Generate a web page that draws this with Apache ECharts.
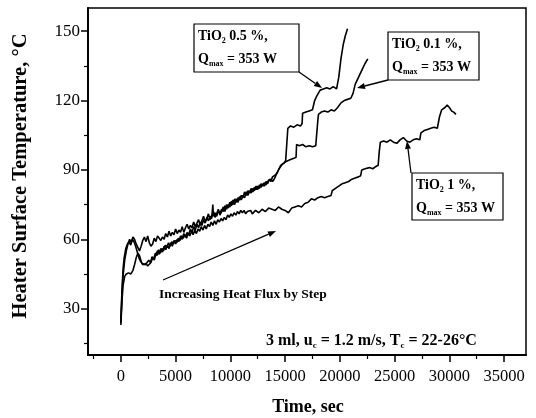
<!DOCTYPE html>
<html>
<head>
<meta charset="utf-8">
<script src="https://cdn.jsdelivr.net/npm/echarts@6/dist/echarts.min.js"></script>
<style>
  html, body { margin: 0; padding: 0; background: #fff; }
  #chart { width: 536px; height: 418px; }
</style>
</head>
<body>
<div id="chart"></div>
<script>
// tick positions
const xMajorTicks = [0, 5000, 10000, 15000, 20000, 25000, 30000, 35000];
const xMinorTicks = [-2500, 2500, 7500, 12500, 17500, 22500, 27500, 32500];
const yMajorTicks = [30, 60, 90, 120, 150];
const yMinorTicks = [15, 45, 75, 105, 135];

// TiO2 0.5 %  [time s, temperature C]
const tio2_05 = [
  [0, 24], [100, 36], [200, 44], [350, 51], [500, 55], [650, 58], [800, 60], [950, 58.5],
  [1100, 61], [1250, 60], [1400, 58], [1550, 56.5], [1700, 55], [1850, 57], [2000, 59.5],
  [2150, 61], [2300, 59], [2450, 61.5], [2600, 58.5], [2750, 57], [2900, 58], [3050, 60.5],
  [3200, 59], [3350, 61.5], [3500, 62], [3650, 59.5], [3800, 61], [3950, 60], [4100, 62.5],
  [4250, 61], [4400, 63.5], [4550, 61.5], [4700, 63], [4850, 62], [5000, 64.5], [5150, 62.5],
  [5300, 64], [5450, 63], [5600, 65.5], [5750, 63], [5900, 65], [6050, 66.5], [6200, 64.5],
  [6350, 66], [6500, 65], [6650, 67.5], [6800, 65.5], [6950, 67], [7100, 68.5], [7250, 66],
  [7400, 68], [7550, 70], [7700, 67.5], [7850, 69], [8000, 71], [8150, 68.5], [8300, 70],
  [8450, 72], [8600, 69.5], [8750, 71], [8900, 73], [9050, 70.5], [9200, 72], [9350, 74],
  [9500, 72], [9650, 75], [9800, 73.5], [9950, 76], [10100, 74.5], [10250, 77], [10400, 75],
  [10550, 77.5], [10700, 76], [10850, 78.5], [11000, 77], [11150, 79], [11300, 78],
  [11450, 80.5], [11600, 79], [11750, 81], [11900, 80], [12050, 82], [12200, 81], [12350, 83],
  [12500, 81.5], [12650, 83.5], [12800, 82.5], [12950, 84], [13100, 83], [13250, 85],
  [13400, 84], [13550, 86], [13700, 85], [13850, 87], [14000, 86.5], [14150, 88], [14300, 89],
  [14450, 90.5], [14600, 92], [14750, 92.5], [14900, 93], [15050, 94], [15200, 94.5],
  [15250, 108], [15500, 109], [15800, 108.5], [16100, 109.5], [16400, 109], [16550, 110],
  [16600, 114.5], [16900, 115], [17200, 115.5], [17500, 116], [17700, 120], [17900, 122],
  [18200, 124.5], [18500, 125], [18800, 125.5], [19100, 125], [19400, 126], [19700, 125],
  [19800, 124.5], [19900, 130], [20100, 138], [20300, 144], [20500, 148], [20700, 151]
];

// TiO2 0.1 %
const tio2_01 = [
  [0, 23], [100, 33], [200, 40], [350, 44], [500, 45], [700, 45.5], [900, 45], [1100, 46.5],
  [1250, 49], [1400, 52], [1550, 54], [1700, 53], [1850, 50.5], [2000, 49], [2150, 48.5],
  [2300, 49.5], [2450, 48.5], [2600, 49], [2750, 50], [2900, 52], [3050, 51], [3200, 53.5],
  [3350, 55], [3500, 53.5], [3650, 56], [3800, 54.5], [3950, 57], [4100, 55.5], [4250, 57.5],
  [4400, 56], [4550, 58.5], [4700, 57], [4850, 59.5], [5000, 58], [5150, 60], [5300, 59],
  [5450, 61.5], [5600, 60], [5750, 62.5], [5900, 61], [6050, 63], [6200, 62], [6350, 64.5],
  [6500, 63], [6650, 65.5], [6800, 64], [6950, 66.5], [7100, 65], [7250, 67.5], [7400, 66],
  [7550, 68.5], [7700, 67], [7850, 69.5], [8000, 68], [8150, 70], [8300, 69], [8400, 75],
  [8450, 70], [8600, 71.5], [8750, 70], [8900, 72.5], [9050, 71], [9200, 73], [9350, 72],
  [9500, 74.5], [9650, 73], [9800, 75], [9950, 74], [10100, 76.5], [10250, 75], [10400, 77.5],
  [10550, 76], [10700, 78], [10850, 77], [11000, 79], [11150, 78], [11300, 80.5], [11450, 79],
  [11600, 81], [11750, 80], [11900, 82], [12050, 80.5], [12200, 82.5], [12350, 81.5],
  [12500, 83], [12650, 82], [12800, 84], [12950, 83], [13100, 84.5], [13250, 83.5], [13400, 85],
  [13550, 84.5], [13700, 86], [13850, 85], [14000, 86], [14150, 87.5], [14300, 89],
  [14450, 90.5], [14600, 91.5], [14750, 92.5], [14900, 93], [15050, 93.5], [15200, 94],
  [15500, 94.5], [15800, 95], [16000, 95.5], [16050, 101], [16300, 100.5], [16600, 101],
  [16900, 100], [17200, 100.5], [17500, 100], [17800, 100.5], [17950, 101], [18000, 112],
  [18050, 114], [18300, 115], [18600, 115.5], [18900, 115], [19200, 116], [19500, 115.5],
  [19800, 117], [20100, 119], [20400, 120], [20700, 120.5], [21000, 121], [21200, 123],
  [21400, 127], [21700, 130], [22000, 133], [22300, 136], [22550, 138]
];

// TiO2 1 %
const tio2_1 = [
  [0, 24], [100, 38], [200, 47], [300, 52], [450, 56], [600, 58], [750, 59], [900, 57.5],
  [1050, 60], [1200, 59], [1350, 57], [1500, 54.5], [1650, 52], [1800, 50.5], [1950, 49.5],
  [2100, 50], [2250, 49], [2400, 49.5], [2550, 51], [2700, 50], [2850, 52.5], [3000, 51.5],
  [3150, 54], [3300, 53], [3450, 55.5], [3600, 54], [3750, 56], [3900, 55], [4050, 57.5],
  [4200, 56.5], [4350, 58.5], [4500, 57], [4650, 59], [4800, 58], [4950, 59.5], [5100, 58.5],
  [5250, 60.5], [5400, 59.5], [5550, 61.5], [5700, 60.5], [5850, 62], [6000, 60.5],
  [6150, 62.5], [6300, 61.5], [6450, 63.5], [6600, 62], [6750, 64], [6900, 62.5], [7050, 64.5],
  [7200, 63.5], [7350, 65.5], [7500, 64], [7650, 66], [7800, 64.5], [7950, 66.5], [8100, 65.5],
  [8250, 67.5], [8400, 66], [8550, 68], [8700, 66.5], [8850, 68.5], [9000, 67.5], [9150, 69],
  [9300, 68], [9450, 69.5], [9600, 68.5], [9750, 70.5], [9900, 69.5], [10050, 71],
  [10200, 70], [10350, 71.5], [10500, 70.5], [10650, 72], [10800, 71], [10950, 72.5],
  [11100, 71.5], [11250, 72.5], [11400, 71], [11550, 72], [11700, 71.5], [11850, 72.5],
  [12000, 71], [12300, 72.5], [12600, 71.5], [12900, 73], [13200, 72], [13500, 73.5],
  [13800, 73], [14100, 72.5], [14400, 74], [14700, 73], [15000, 72.5], [15300, 71.5],
  [15600, 73.5], [15900, 74], [16200, 74.5], [16500, 74], [16800, 75.5], [17100, 76],
  [17400, 77.5], [17700, 77], [18000, 78], [18300, 78.5], [18600, 78], [18900, 78.5],
  [19200, 79], [19300, 81], [19600, 82], [19900, 83], [20200, 84], [20500, 84.5],
  [20800, 85], [21100, 86], [21400, 86.5], [21700, 87], [21900, 87.5], [22000, 90],
  [22300, 90.5], [22700, 91], [23000, 90.5], [23300, 91.5], [23500, 92], [23600, 98],
  [23700, 102], [24000, 102.5], [24300, 102], [24600, 103], [24900, 102], [25200, 101.5],
  [25500, 103], [25800, 104], [26100, 102.5], [26400, 102], [26700, 103], [27000, 103.5],
  [27300, 103], [27400, 106], [27700, 107], [28000, 107.5], [28300, 108], [28600, 108.5],
  [28900, 108], [29100, 113], [29300, 116], [29600, 117], [29800, 118], [30000, 117],
  [30200, 115.5], [30400, 115], [30600, 114]
];

const serif = '"Liberation Serif", "DejaVu Serif", serif';
const chart = echarts.init(document.getElementById('chart'));

const curve = (name, data) => ({
  name: name,
  type: 'line',
  data: data,
  showSymbol: false,
  symbol: 'none',
  lineStyle: { color: '#000', width: 1.6 },
  animation: false,
  xAxisIndex: 0,
  yAxisIndex: 0
});

// line with filled arrowhead at (x2, y2)
const arrow = (x1, y1, x2, y2) => {
  const a = Math.atan2(y2 - y1, x2 - x1);
  const len = 8, half = 3;
  const bx = x2 - len * Math.cos(a), by = y2 - len * Math.sin(a);
  return [
    { type: 'line', shape: { x1: x1, y1: y1, x2: bx, y2: by }, style: { stroke: '#000', lineWidth: 1.3 } },
    { type: 'polygon', shape: { points: [
      [x2, y2],
      [bx + half * Math.sin(a), by - half * Math.cos(a)],
      [bx - half * Math.sin(a), by + half * Math.cos(a)]
    ] }, style: { fill: '#000' } }
  ];
};

const richStyles = {
  a: { fontFamily: serif, fontWeight: 'bold', fontSize: 14, lineHeight: 18, fill: '#000' },
  s: { fontFamily: serif, fontWeight: 'bold', fontSize: 8, lineHeight: 8, verticalAlign: 'bottom', fill: '#000' }
};

const labelBox = (x, y, w, h, pct) => [
  { type: 'rect', shape: { x: x, y: y, width: w, height: h }, style: { fill: '#fff', stroke: '#000', lineWidth: 1.2 } },
  { type: 'text', x: x + 4, y: y + 3, style: {
      text: '{a|TiO}{s|2}{a| ' + pct + ' %,}', rich: richStyles } },
  { type: 'text', x: x + 4, y: y + 26, style: {
      text: '{a|Q}{s|max}{a| = 353 W}', rich: richStyles } }
];

chart.setOption({
  backgroundColor: '#fff',
  animation: false,
  grid: {
    left: 88, right: 10, top: 8, bottom: 63,
    show: true, borderColor: '#000', borderWidth: 1.5, backgroundColor: 'transparent'
  },
  xAxis: [{
    type: 'value', min: -3000, max: 37000,
    axisLine: { show: true, onZero: false, lineStyle: { color: '#000', width: 2 } },
    axisTick: { show: true, customValues: xMajorTicks, length: 7, lineStyle: { color: '#000', width: 1.5 } },
    axisLabel: { customValues: xMajorTicks, formatter: (v) => String(v), color: '#000', fontFamily: serif, fontSize: 16.5, margin: 13 },
    splitLine: { show: false }
  }, {
    type: 'value', min: -3000, max: 37000, position: 'bottom',
    axisLine: { show: false, onZero: false },
    axisTick: { show: true, customValues: xMinorTicks, length: 4, lineStyle: { color: '#000', width: 1.2 } },
    axisLabel: { show: false },
    splitLine: { show: false }
  }],
  yAxis: [{
    type: 'value', min: 10, max: 160,
    axisLine: { show: true, onZero: false, lineStyle: { color: '#000', width: 2 } },
    axisTick: { show: true, customValues: yMajorTicks, length: 7, lineStyle: { color: '#000', width: 1.5 } },
    axisLabel: { customValues: yMajorTicks, color: '#000', fontFamily: serif, fontSize: 17, margin: 8 },
    splitLine: { show: false }
  }, {
    type: 'value', min: 10, max: 160, position: 'left',
    axisLine: { show: false, onZero: false },
    axisTick: { show: true, customValues: yMinorTicks, length: 4, lineStyle: { color: '#000', width: 1.2 } },
    axisLabel: { show: false },
    splitLine: { show: false }
  }],
  series: [
    curve('TiO2 0.5 %', tio2_05),
    curve('TiO2 0.1 %', tio2_01),
    curve('TiO2 1 %', tio2_1)
  ],
  graphic: [
    { type: 'text', x: 21, y: 176, rotation: Math.PI / 2, style: {
        text: 'Heater Surface Temperature, °C', fontFamily: serif, fontWeight: 'bold', fontSize: 20.5,
        fill: '#000', align: 'center', verticalAlign: 'middle' } },
    { type: 'text', x: 308, y: 407, style: {
        text: 'Time, sec', fontFamily: serif, fontWeight: 'bold', fontSize: 18,
        fill: '#000', align: 'center', verticalAlign: 'middle' } },
    { type: 'text', x: 159, y: 295, style: {
        text: 'Increasing Heat Flux by Step', fontFamily: serif, fontWeight: 'bold', fontSize: 13.5,
        fill: '#000', align: 'left', verticalAlign: 'middle' } },
    { type: 'text', x: 266, y: 331, style: {
        text: '{b|3 ml, u}{c|c}{b| = 1.2 m/s, T}{c|c}{b| = 22-26°C}',
        rich: {
          b: { fontFamily: serif, fontWeight: 'bold', fontSize: 16, lineHeight: 19, fill: '#000' },
          c: { fontFamily: serif, fontWeight: 'bold', fontSize: 9, lineHeight: 8, verticalAlign: 'bottom', fill: '#000' }
        } } },
    ...arrow(163, 280, 276, 231),
    ...labelBox(194, 24, 105, 48, '0.5'),
    ...arrow(299, 72, 322, 88),
    ...labelBox(388, 32, 91, 48, '0.1'),
    ...arrow(388, 80, 357, 88),
    ...labelBox(412, 173, 91, 47, '1'),
    ...arrow(411, 173, 407, 141)
  ]
});

window.addEventListener('resize', () => chart.resize());
</script>
</body>
</html>
